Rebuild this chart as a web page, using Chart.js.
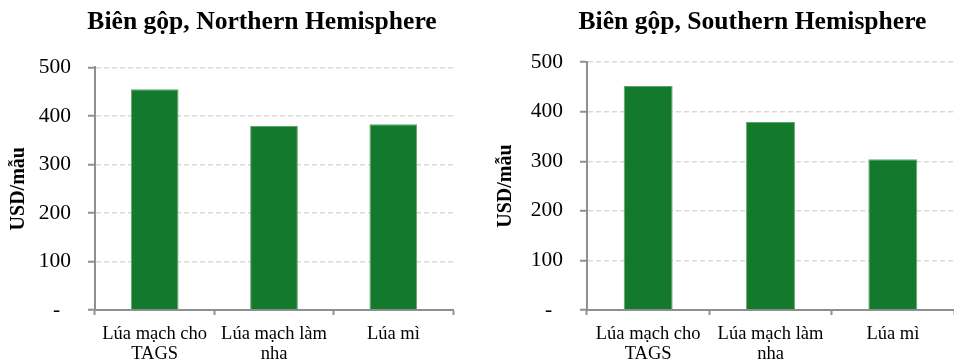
<!DOCTYPE html>
<html>
<head>
<meta charset="utf-8">
<script src="https://cdn.jsdelivr.net/npm/chart.js@4"></script>
<style>
  body { margin: 0; background: #fff; }
  .box { position: absolute; top: 0; width: 477px; height: 362px; }
</style>
</head>
<body>
<div class="box" style="left:0"><canvas id="north" width="477" height="362"></canvas></div>
<div class="box" style="left:477px"><canvas id="south" width="477" height="362"></canvas></div>
<script>
// chart data
var categories = [['Lúa mạch cho', 'TAGS'], ['Lúa mạch làm', 'nha'], ['Lúa mì']];
var northValues = [455, 379, 383];
var southValues = [452, 379, 304];
var yMin = 0, yMax = 500, yStep = 100;
var northTitle = 'Biên gộp, Northern Hemisphere';
var southTitle = 'Biên gộp, Southern Hemisphere';
var yTitle = 'USD/mẫu';

var serif = "'Liberation Serif', 'Times New Roman', serif";
var axisGrey = '#8f8f8f';

// the chart title sits a bit right of the canvas centre in the original
var titleShift = {
    id: 'titleShift',
    afterLayout: function (chart, args, o) {
        var t = chart.titleBlock;
        if (t) { t.left += o.dx; t.right += o.dx; }
    }
};

function makeChart(id, title, values, opt) {
    return new Chart(document.getElementById(id), {
        type: 'bar',
        data: {
            labels: categories,
            datasets: [{
                data: values,
                backgroundColor: '#137a2d',
                borderColor: '#5fa56f',
                borderWidth: 1,
                barPercentage: 0.4,
                categoryPercentage: 1.0
            }]
        },
        plugins: [titleShift],
        options: {
            responsive: false,
            animation: false,
            layout: { padding: { left: 0, right: opt.padRight, top: 0, bottom: 0 } },
            plugins: {
                legend: { display: false },
                tooltip: { enabled: false },
                titleShift: { dx: opt.titleDx },
                title: {
                    display: true,
                    text: title,
                    color: '#000',
                    font: { family: serif, size: 25.6, weight: 'bold', lineHeight: 1.2 },
                    padding: { top: 7.3, bottom: opt.titleBottom }
                }
            },
            scales: {
                x: {
                    grid: {
                        drawOnChartArea: false,
                        offset: true,
                        tickLength: 5,
                        tickColor: axisGrey,
                        tickWidth: 2
                    },
                    border: { color: axisGrey, width: 2 },
                    ticks: {
                        color: '#000',
                        padding: 9.5,
                        maxRotation: 0,
                        autoSkip: false,
                        font: { family: serif, size: 18.5, lineHeight: 1.08 }
                    },
                    afterFit: function (s) { s.height = 52; }
                },
                y: {
                    min: yMin,
                    max: yMax,
                    grid: {
                        color: '#d9d9d9',
                        lineWidth: 1.5,
                        tickLength: 7,
                        tickColor: axisGrey,
                        tickWidth: 2,
                        tickBorderDash: []
                    },
                    border: { color: axisGrey, width: 2, dash: [5, 3] },
                    ticks: {
                        stepSize: yStep,
                        color: '#000',
                        padding: 17,
                        font: { family: serif, size: 21.5 },
                        callback: function (v) { return v === 0 ? '-\u2007' : v; }
                    },
                    title: {
                        display: true,
                        text: yTitle,
                        color: '#000',
                        font: { family: serif, size: 20, weight: 'bold', lineHeight: 1.2 },
                        padding: { top: opt.yTitlePad, bottom: 0 }
                    },
                    afterFit: function (s) { s.width = opt.yWidth; }
                }
            }
        }
    });
}

makeChart('north', northTitle, northValues, { padRight: 24, yWidth: 95, yTitlePad: 7, titleBottom: 29.4, titleDx: 35.5 });
makeChart('south', southTitle, southValues, { padRight: 0, yWidth: 110, yTitlePad: 17, titleBottom: 24.1, titleDx: 37 });
</script>
</body>
</html>
